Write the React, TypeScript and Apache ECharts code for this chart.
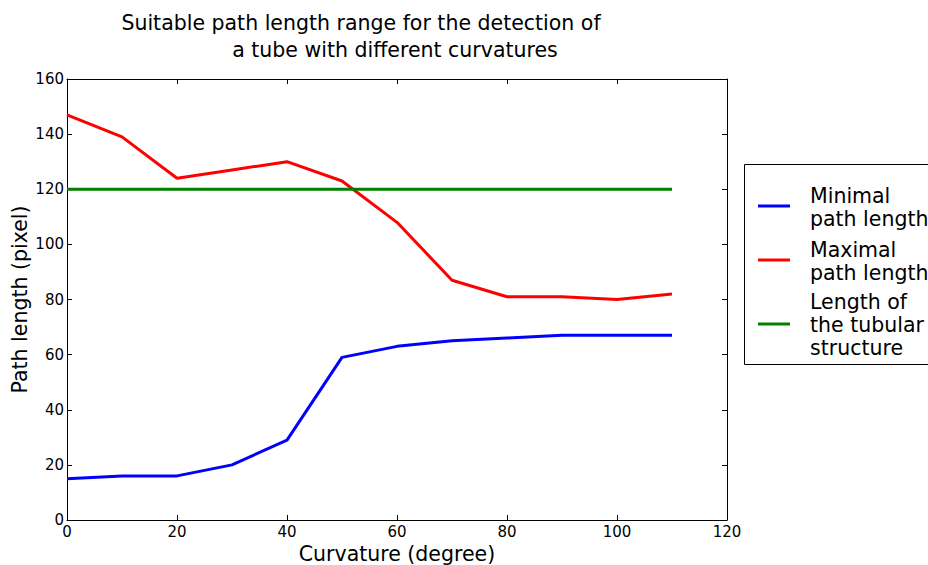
import React, { useEffect, useRef } from "react";
import * as echarts from "echarts";

const curvature = [0, 10, 20, 30, 40, 50, 60, 70, 80, 90, 100, 110];
const minimalPath = [15, 16, 16, 20, 29, 59, 63, 65, 66, 67, 67, 67];
const maximalPath = [147, 139, 124, 127, 130, 123, 108, 87, 81, 81, 80, 82];
const tubeLength = [120, 120, 120, 120, 120, 120, 120, 120, 120, 120, 120, 120];
const seriesNames = ["Minimal\npath length", "Maximal\npath length", "Length of\nthe tubular\nstructure"];
const seriesColors = ["#0000ff", "#ff0000", "#008000"];
const titleLines = ["Suitable path length range for the detection of", "a tube with different curvatures"];

const FONT = "DejaVu Sans";

export default function App() {
  const ref = useRef<HTMLDivElement>(null);
  useEffect(() => {
    if (!ref.current) return;
    const chart = echarts.init(ref.current, undefined, { renderer: "svg" });
    const datasets = [minimalPath, maximalPath, tubeLength];
    const axisCommon = {
      min: 0,
      axisLine: { show: true, onZero: false, lineStyle: { color: "#000", width: 1 } },
      axisTick: { show: true, inside: true, length: 5, lineStyle: { color: "#000" } },
      splitLine: { show: false },
    };
    const legendTops = [206, 260, 324];
    const legendGraphics: any[] = [
      {
        type: "rect",
        shape: { x: 744.5, y: 164.5, width: 200, height: 200 },
        style: { fill: "#fff", stroke: "#000", lineWidth: 1 },
        z: 10,
      },
    ];
    seriesNames.forEach((n, i) => {
      legendGraphics.push({
        type: "line",
        shape: { x1: 758, y1: legendTops[i], x2: 790, y2: legendTops[i] },
        style: { stroke: seriesColors[i], lineWidth: 3 },
        z: 11,
      });
      legendGraphics.push({
        type: "text",
        x: 810,
        y: legendTops[i] + 1,
        style: {
          text: n,
          fontFamily: FONT,
          fontSize: 20.5,
          lineHeight: 23,
          fill: "#000",
          textAlign: "left",
          textVerticalAlign: "middle",
        },
        z: 11,
      });
    });
    chart.setOption({
      animation: false,
      backgroundColor: "#fff",
      textStyle: { fontFamily: FONT },
      grid: { left: 67, right: 201, top: 79, bottom: 45, show: false, containLabel: false, outerBoundsMode: "none" },
      xAxis: [
        {
          type: "value",
          position: "bottom",
          max: 120,
          interval: 20,
          ...axisCommon,
          axisLabel: { color: "#000", fontSize: 15, margin: 4, fontFamily: FONT },
          name: "Curvature (degree)",
          nameLocation: "middle",
          nameGap: 20,
          nameTextStyle: { color: "#000", fontSize: 20.5, fontFamily: FONT, verticalAlign: "top" },
        },
        {
          type: "value",
          position: "top",
          max: 120,
          interval: 20,
          ...axisCommon,
          axisLabel: { show: false },
        },
      ],
      yAxis: [
        {
          type: "value",
          position: "left",
          max: 160,
          interval: 20,
          ...axisCommon,
          axisLabel: { color: "#000", fontSize: 15, margin: 3, fontFamily: FONT },
          name: "Path length (pixel)",
          nameLocation: "middle",
          nameGap: 47,
          nameMoveOverlap: false,
          nameTextStyle: { color: "#000", fontSize: 20.5, fontFamily: FONT, verticalAlign: "middle" },
        },
        {
          type: "value",
          position: "right",
          max: 160,
          interval: 20,
          ...axisCommon,
          axisLabel: { show: false },
        },
      ],
      series: datasets.map((d, i) => ({
        type: "line",
        name: seriesNames[i],
        data: curvature.map((x, j) => [x, d[j]]),
        showSymbol: false,
        symbol: "none",
        lineStyle: { color: seriesColors[i], width: 3 },
        itemStyle: { color: seriesColors[i] },
      })),
      graphic: [
        {
          type: "text",
          x: 361,
          y: 23,
          style: {
            text: titleLines[0],
            fontFamily: FONT,
            fontSize: 20.5,
            fill: "#000",
            textAlign: "center",
            textVerticalAlign: "middle",
          },
        },
        {
          type: "text",
          x: 395,
          y: 50,
          style: {
            text: titleLines[1],
            fontFamily: FONT,
            fontSize: 20.5,
            fill: "#000",
            textAlign: "center",
            textVerticalAlign: "middle",
          },
        },
        ...legendGraphics,
      ],
    });
    return () => chart.dispose();
  }, []);
  return <div ref={ref} style={{ width: 928, height: 565, position: "absolute", left: 0, top: 0 }} />;
}
